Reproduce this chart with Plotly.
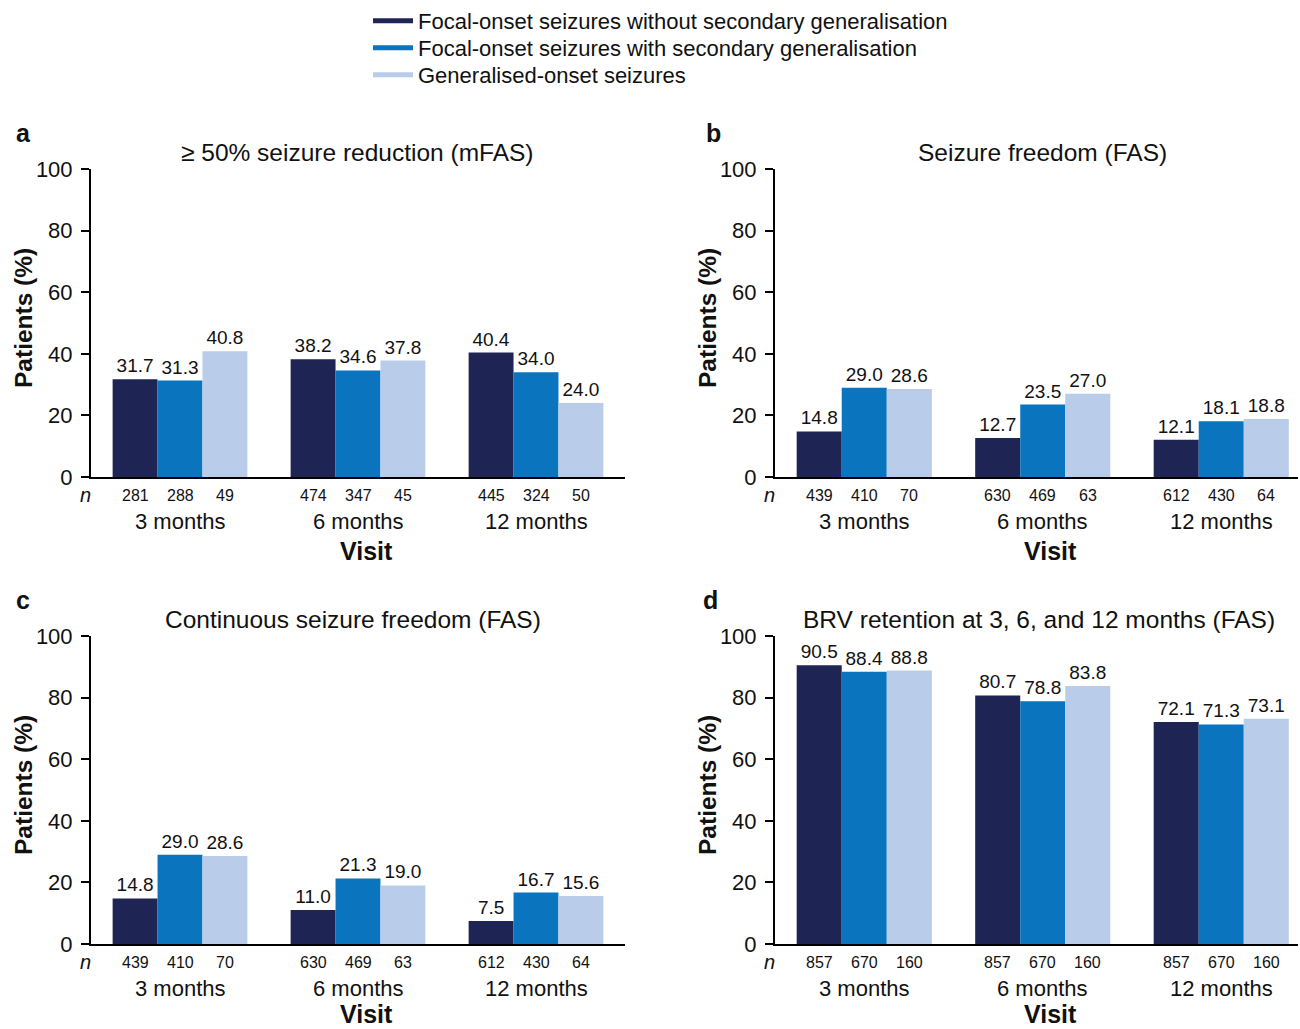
import plotly.graph_objects as go

# ---------------- data ----------------
visits = ["3 months", "6 months", "12 months"]
series_names = [
    "Focal-onset seizures without secondary generalisation",
    "Focal-onset seizures with secondary generalisation",
    "Generalised-onset seizures",
]
colors = ["#1e2555", "#0a75be", "#b9cdea"]

panel_letters = ["a", "b", "c", "d"]
panel_titles = [
    "≥ 50% seizure reduction (mFAS)",
    "Seizure freedom (FAS)",
    "Continuous seizure freedom (FAS)",
    "BRV retention at 3, 6, and 12 months (FAS)",
]

# values[panel][series][visit]
a_focal_no_sg = [31.7, 38.2, 40.4]
a_focal_sg = [31.3, 34.6, 34.0]
a_gen = [40.8, 37.8, 24.0]
b_focal_no_sg = [14.8, 12.7, 12.1]
b_focal_sg = [29.0, 23.5, 18.1]
b_gen = [28.6, 27.0, 18.8]
c_focal_no_sg = [14.8, 11.0, 7.5]
c_focal_sg = [29.0, 21.3, 16.7]
c_gen = [28.6, 19.0, 15.6]
d_focal_no_sg = [90.5, 80.7, 72.1]
d_focal_sg = [88.4, 78.8, 71.3]
d_gen = [88.8, 83.8, 73.1]

# n[panel][series][visit]
a_n = [[281, 474, 445], [288, 347, 324], [49, 45, 50]]
b_n = [[439, 630, 612], [410, 469, 430], [70, 63, 64]]
c_n = [[439, 630, 612], [410, 469, 430], [70, 63, 64]]
d_n = [[857, 857, 857], [670, 670, 670], [160, 160, 160]]

panel_values = [
    [a_focal_no_sg, a_focal_sg, a_gen],
    [b_focal_no_sg, b_focal_sg, b_gen],
    [c_focal_no_sg, c_focal_sg, c_gen],
    [d_focal_no_sg, d_focal_sg, d_gen],
]
panel_n = [a_n, b_n, c_n, d_n]

y_ticks = [0, 20, 40, 60, 80, 100]

# ---------------- layout constants ----------------
W, H = 1300, 1029
FONT = "Liberation Sans, Arial, sans-serif"
TXT = "#111111"
BARGAP = 0.243
xdoms = [[91 / W, 625 / W], [775 / W, 1298 / W]]
xranges = [[-0.5, 2.5], [-0.5, 2.43]]
ydoms = [[1 - 477 / H, 1 - 169 / H], [1 - 944 / H, 1 - 636 / H]]
legend_rows_px = [21, 48, 75]
title_xshift = [-1, 5, -5, 1]
letter_xshift = [-68, -62, -68, -65]
visit_yshift = [-74, -70]

fig = go.Figure()
annotations = []
xpos = list(range(len(visits)))
bw = (1 - BARGAP) / len(series_names)

for p in range(4):
    row, col = divmod(p, 2)
    ax = "" if p == 0 else str(p + 1)
    xref, yref = "x" + ax, "y" + ax
    mid = 1  # middle category, centre of the full category range
    for s, name in enumerate(series_names):
        fig.add_trace(go.Bar(
            x=xpos, y=panel_values[p][s], name=name,
            marker=dict(color=colors[s], line=dict(width=0)),
            texttemplate="%{y:.1f}", textposition="outside",
            textfont=dict(size=19, color=TXT, family=FONT),
            constraintext="none", cliponaxis=False,
            showlegend=False, xaxis=xref, yaxis=yref,
            hoverinfo="skip",
        ))
        for v in range(len(visits)):
            annotations.append(dict(
                x=xpos[v] + (s - 1) * bw, y=0, xref=xref, yref=yref,
                text=str(panel_n[p][s][v]), showarrow=False,
                yanchor="middle", yshift=-18,
                font=dict(size=16, color=TXT, family=FONT)))
    for v, lab in enumerate(visits):
        annotations.append(dict(
            x=xpos[v], y=0, xref=xref, yref=yref, text=lab, showarrow=False,
            yanchor="middle", yshift=-44,
            font=dict(size=22, color=TXT, family=FONT)))
    # "n" row label
    annotations.append(dict(
        x=0, y=0, xref=f"{xref} domain", yref=yref, text="<i>n</i>",
        showarrow=False, xanchor="center", yanchor="middle", xshift=-6, yshift=-18,
        font=dict(size=20, color=TXT, family=FONT)))
    # Visit axis title
    annotations.append(dict(
        x=mid, y=0, xref=xref, yref=yref, text="<b>Visit</b>",
        showarrow=False, yanchor="middle", yshift=visit_yshift[row], xshift=8,
        font=dict(size=25, color=TXT, family=FONT)))
    # panel title
    annotations.append(dict(
        x=mid, y=1, xref=xref, yref=f"{yref} domain",
        text=panel_titles[p], showarrow=False, yanchor="middle", yshift=17,
        xshift=title_xshift[p] - (5 if col == 1 else 0),
        font=dict(size=24.5, color=TXT, family=FONT)))
    # panel letter
    annotations.append(dict(
        x=0, y=1, xref=f"{xref} domain", yref=f"{yref} domain",
        text=f"<b>{panel_letters[p]}</b>", showarrow=False,
        xanchor="center", yanchor="middle", xshift=letter_xshift[p], yshift=36,
        font=dict(size=25, color=TXT, family=FONT)))
    # y axis title
    annotations.append(dict(
        x=0, y=0.5, xref=f"{xref} domain", yref=f"{yref} domain",
        text="<b>Patients (%)</b>", showarrow=False, textangle=-90,
        xanchor="center", yanchor="middle", xshift=-68, yshift=5,
        font=dict(size=24.5, color=TXT, family=FONT)))

    fig.update_layout(**{
        "xaxis" + ax: dict(domain=xdoms[col], range=xranges[col], showline=True,
                           linecolor="black", linewidth=2, showticklabels=False,
                           ticks="", showgrid=False, zeroline=False,
                           fixedrange=True, automargin=False,
                           anchor=yref),
        "yaxis" + ax: dict(domain=ydoms[row], range=[0, 100], tickvals=y_ticks,
                           showline=True, linecolor="black", linewidth=2,
                           ticks="outside", ticklen=8, tickwidth=2,
                           tickcolor="black", ticklabelstandoff=4,
                           tickfont=dict(size=22, color=TXT, family=FONT),
                           showgrid=False, zeroline=False, automargin=False,
                           fixedrange=True, anchor=xref),
    })

# legend entries as thick line swatches, one legend per row for exact spacing
legend_layout = {}
for s, name in enumerate(series_names):
    lg = "legend" if s == 0 else f"legend{s + 1}"
    fig.add_trace(go.Scatter(
        x=[None], y=[None], mode="lines", name=name, legend=lg,
        line=dict(color=colors[s], width=5), showlegend=True))
    legend_layout[lg] = dict(
        x=368 / W, y=1 - legend_rows_px[s] / H, xanchor="left", yanchor="middle",
        font=dict(size=22, color=TXT, family=FONT),
        bgcolor="rgba(0,0,0,0)", itemwidth=40, borderwidth=0)

fig.update_layout(
    width=W, height=H,
    margin=dict(l=0, r=0, t=0, b=0),
    paper_bgcolor="white", plot_bgcolor="white",
    barmode="group", bargap=BARGAP, bargroupgap=0,
    font=dict(family=FONT, color=TXT),
    showlegend=True,
    annotations=annotations,
    **legend_layout,
)

fig.write_html("out.html", config={"displayModeBar": False},
               post_script="document.body.style.margin='0';")
